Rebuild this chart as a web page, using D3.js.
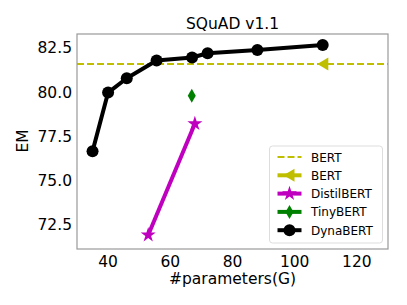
<!DOCTYPE html>
<html>
<head>
<meta charset="utf-8">
<script src="https://d3js.org/d3.v7.min.js"></script>
<style>
  body { margin: 0; background: #fff; }
  text { font-family: "DejaVu Sans", sans-serif; fill: #000; }
</style>
</head>
<body>
<script>
// data
var dynaParams = [35, 40, 46, 55.6, 67, 72, 88, 109];
var dynaEM     = [76.65, 79.97, 80.78, 81.78, 81.95, 82.19, 82.38, 82.66];
var distilParams = [52.9, 67.9];
var distilEM     = [71.92, 78.21];
var tinyParams = [66.9];
var tinyEM     = [79.79];
var bertParams = [109.2];
var bertEM     = [81.59];
var xTicks = [40, 60, 80, 100, 120];
var yTicks = [72.5, 75.0, 77.5, 80.0, 82.5];
var legendNames = ["BERT", "BERT", "DistilBERT", "TinyBERT", "DynaBERT"];

var width = 407, height = 305;
var margin = {left: 77, right: 19, top: 34, bottom: 56};

var svg = d3.select("body").append("svg")
    .attr("width", width).attr("height", height);

var x = d3.scaleLinear().domain([30, 130]).range([margin.left, width - margin.right]);
var y = d3.scaleLinear().domain([71.13, 83.28]).range([height - margin.bottom, margin.top]);

function pts(xs, ys) { return xs.map(function(d, i) { return [d, ys[i]]; }); }
var line = d3.line().x(function(d) { return x(d[0]); }).y(function(d) { return y(d[1]); });

var plot = svg.append("g");

// BERT dashed reference line
plot.append("line")
    .attr("x1", x.range()[0]).attr("x2", x.range()[1])
    .attr("y1", y(bertEM[0])).attr("y2", y(bertEM[0]))
    .attr("stroke", "#bfbf00").attr("stroke-width", 2).attr("stroke-dasharray", "7,3");

var star = d3.symbol().type(d3.symbolStar).size(70);
var diamond = "M0,-7L4,0L0,7L-4,0Z";
var triLeft = "M-6,0L5,-6.5L5,6.5Z";

// BERT marker
plot.selectAll(".bert").data(pts(bertParams, bertEM)).enter().append("path")
    .attr("d", triLeft).attr("fill", "#bfbf00")
    .attr("transform", function(d) { return "translate(" + x(d[0]) + "," + y(d[1]) + ")"; });

// DistilBERT
plot.append("path").datum(pts(distilParams, distilEM))
    .attr("d", line).attr("fill", "none").attr("stroke", "#bf00bf").attr("stroke-width", 4);
plot.selectAll(".distil").data(pts(distilParams, distilEM)).enter().append("path")
    .attr("d", star).attr("fill", "#bf00bf")
    .attr("transform", function(d) { return "translate(" + x(d[0]) + "," + y(d[1]) + ")"; });

// TinyBERT
plot.selectAll(".tiny").data(pts(tinyParams, tinyEM)).enter().append("path")
    .attr("d", diamond).attr("fill", "#008000")
    .attr("transform", function(d) { return "translate(" + x(d[0]) + "," + y(d[1]) + ")"; });

// DynaBERT
plot.append("path").datum(pts(dynaParams, dynaEM))
    .attr("d", line).attr("fill", "none").attr("stroke", "#000").attr("stroke-width", 4)
    .attr("stroke-linejoin", "round");
plot.selectAll(".dyna").data(pts(dynaParams, dynaEM)).enter().append("circle")
    .attr("cx", function(d) { return x(d[0]); }).attr("cy", function(d) { return y(d[1]); })
    .attr("r", 6).attr("fill", "#000");

// frame
svg.append("rect")
    .attr("x", margin.left).attr("y", margin.top)
    .attr("width", width - margin.left - margin.right)
    .attr("height", height - margin.top - margin.bottom)
    .attr("fill", "none").attr("stroke", "#999").attr("stroke-width", 1.2);

// ticks
svg.selectAll(".xt").data(xTicks).enter().append("text")
    .attr("x", function(d) { return x(d); }).attr("y", 267)
    .attr("text-anchor", "middle").attr("font-size", 15.5)
    .text(function(d) { return d; });
svg.selectAll(".yt").data(yTicks).enter().append("text")
    .attr("x", 72).attr("y", function(d) { return y(d) + 5.5; })
    .attr("text-anchor", "end").attr("font-size", 15.5)
    .text(function(d) { return d.toFixed(1); });

svg.append("text").attr("x", (x.range()[0] + x.range()[1]) / 2).attr("y", 284)
    .attr("text-anchor", "middle").attr("font-size", 15.5).text("#parameters(G)");
svg.append("text").attr("transform", "translate(28,141) rotate(-90)")
    .attr("text-anchor", "middle").attr("font-size", 15.5).text("EM");
svg.append("text").attr("x", (x.range()[0] + x.range()[1]) / 2).attr("y", 29)
    .attr("text-anchor", "middle").attr("font-size", 15.5).text("SQuAD v1.1");

// legend
var lg = svg.append("g");
lg.append("rect").attr("x", 269.5).attr("y", 146).attr("width", 113).attr("height", 97)
    .attr("rx", 3).attr("fill", "#fff").attr("fill-opacity", 0.8)
    .attr("stroke", "#ddd").attr("stroke-width", 1);
var rowY = function(i) { return 157 + i * 18.3; };
var hx0 = 277.5, hx1 = 301.5, hxm = 289.5;
var styles = [
  {color: "#bfbf00", w: 2, dash: "7,3", mark: null},
  {color: "#bfbf00", w: 4, dash: null, mark: triLeft},
  {color: "#bf00bf", w: 4, dash: null, mark: star()},
  {color: "#008000", w: 4, dash: null, mark: diamond},
  {color: "#000", w: 4, dash: null, mark: "circle"}
];
legendNames.forEach(function(name, i) {
  var s = styles[i], yy = rowY(i);
  lg.append("line").attr("x1", hx0).attr("x2", hx1).attr("y1", yy).attr("y2", yy)
    .attr("stroke", s.color).attr("stroke-width", s.w).attr("stroke-dasharray", s.dash);
  if (s.mark === "circle") {
    lg.append("circle").attr("cx", hxm).attr("cy", yy).attr("r", 6).attr("fill", s.color);
  } else if (s.mark) {
    lg.append("path").attr("d", s.mark).attr("fill", s.color)
      .attr("transform", "translate(" + hxm + "," + yy + ")");
  }
  lg.append("text").attr("x", 311).attr("y", yy + 4.5).attr("font-size", 12).text(name);
});
</script>
</body>
</html>
